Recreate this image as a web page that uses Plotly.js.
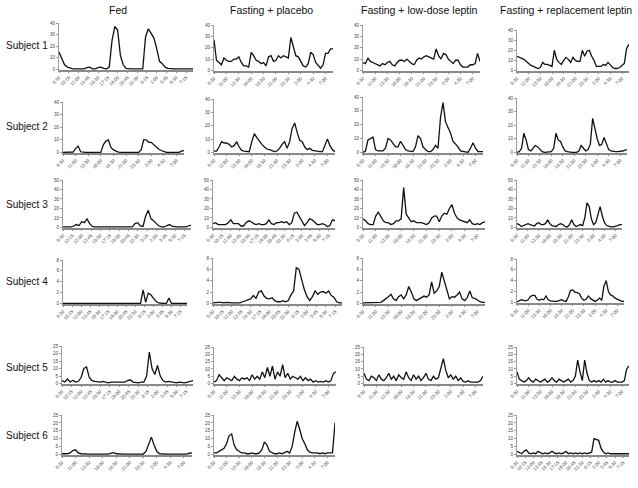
<!DOCTYPE html>
<html>
<head>
<meta charset="utf-8">
<script src="https://cdn.plot.ly/plotly-3.0.1.min.js"></script>
<style>
  html, body { margin: 0; padding: 0; background: #fff; }
  #chart { width: 638px; height: 488px; }
</style>
</head>
<body>
<div id="chart"></div>
<script>
// LH-like pulse profiles, one sample every 30 min from 8:30 to 8:30 next day
const columnTitles = ['Fed', 'Fasting + placebo', 'Fasting + low-dose leptin', 'Fasting + replacement leptin'];
const subjectLabels = ['Subject 1', 'Subject 2', 'Subject 3', 'Subject 4', 'Subject 5', 'Subject 6'];

// two styles of time labels used on the x axes
const ticksShort = ['8:30', '10:15', '12:00', '13:45', '15:30', '17:15', '19:00', '20:45', '22:30', '0:15', '2:00', '3:45', '5:30', '7:15'];
const ticksLong = ['8:30', '11:00', '13:30', '16:00', '18:30', '21:00', '23:30', '2:00', '4:30', '7:00'];

const fedS1 = [
  15, 10, 4, 2, 1, 0.5, 0.5, 0.5, 0.5, 0.5, 1.5, 2,
  0.5, 0.5, 1.5, 2, 1, 0.5, 2, 25, 37, 34, 12, 4,
  1, 0.5, 0.5, 0.5, 0.5, 0.5, 0.5, 28, 35, 31, 27, 18,
  7, 5, 2, 1, 0.5, 0.5, 0.5, 0.5, 0.5, 0.5, 0.5, 0.5,
  0.5];
const placeboS1 = [
  27, 9, 7, 5, 11, 9, 8, 8, 10, 10, 12, 7,
  4, 4, 3, 16, 13, 9, 8, 6, 7, 4, 12, 13,
  8, 9, 13, 11, 13, 12, 11, 29, 22, 13, 12, 8,
  4, 3, 6, 16, 14, 7, 4, 2, 5, 15, 15, 19,
  19];
const lowS1 = [
  7, 6, 11, 8, 7, 6, 5, 4, 6, 5, 7, 8,
  5, 4, 7, 9, 9, 8, 10, 8, 6, 5, 9, 11,
  10, 12, 13, 12, 11, 10, 19, 13, 10, 15, 14, 10,
  8, 6, 9, 9, 5, 3, 3, 3, 5, 5, 6, 15,
  8];
const replS1 = [
  14, 13, 12, 11, 9, 7, 5, 4, 3, 2, 3, 8,
  6, 6, 5, 4, 20, 11, 8, 6, 10, 13, 11, 8,
  13, 10, 9, 9, 20, 14, 19, 20, 14, 10, 4, 4,
  4, 6, 5, 8, 5, 3, 2, 2, 3, 5, 7, 22,
  26];

const fedS2 = [
  0, 0, 0, 0, 0.3, 3, 5, 0.5, 0, 0, 0, 0,
  0, 0, 0, 0, 6, 9, 10, 4, 2, 1, 0.3, 0,
  0, 0, 0, 0, 0, 0, 0, 2, 10, 10, 8, 8,
  6, 4, 2.5, 1.5, 0.5, 0, 0, 0, 0, 0, 0, 1,
  1.5];
const placeboS2 = [
  1, 1, 4, 8, 7, 7, 6, 4, 5, 8, 4, 1.5,
  1, 1, 0.5, 8, 14, 11, 8, 6, 4, 2.5, 2, 1,
  0.5, 1, 3, 6, 8, 3, 8, 18, 22, 15, 9, 8,
  4, 2, 3, 1.5, 1, 0.5, 0.5, 0.5, 5, 10, 5, 2,
  0.5];
const lowS2 = [
  0, 1, 9, 10, 11, 2, 1, 1, 1, 3, 10, 9,
  6, 4, 4, 8, 5, 2, 1, 0.5, 0.5, 4, 12, 10,
  4, 2, 0.5, 0.5, 2, 5, 3, 25, 36, 22, 18, 14,
  8, 6, 4, 1, 0.5, 0, 0, 3, 7, 3, 0.5, 0.5,
  0.5];
const replS2 = [
  0, 0.5, 3, 14, 9, 2, 1, 3, 5, 4, 2, 0.5,
  0, 0, 0, 0.5, 3, 14, 9, 8, 4, 1, 0.5, 0,
  0, 0, 0, 1, 5, 3, 1, 2, 6, 25, 17, 10,
  5, 6, 11, 6, 2, 1, 0.5, 0.5, 0.5, 0.5, 1, 1.5,
  2];

const fedS3 = [
  0.5, 0.5, 0.5, 0.5, 1.5, 3, 2, 6, 5, 9, 4, 1,
  0.5, 0.5, 0.5, 0.5, 1, 0.5, 0.5, 0.5, 0.5, 0.5, 0.5, 0.5,
  0.5, 0.5, 0.5, 4, 5, 1.5, 1, 12, 18, 9, 7, 4,
  1.5, 0.5, 0.5, 2, 3, 1, 0.5, 0.5, 0.5, 0.5, 0.5, 1.5,
  2.5];
const placeboS3 = [
  4, 5, 3, 3, 3, 3, 5, 8, 4, 4, 4, 1.5,
  1.5, 5, 7, 6, 4, 3, 4, 3, 3, 4, 8, 4,
  3, 5, 5, 6, 5, 6, 3, 5, 15, 16, 11, 7,
  2, 5, 9, 8, 5, 3, 3, 4, 3, 1, 2, 8,
  7];
const lowS3 = [
  9, 7, 4, 3, 3, 12, 16, 12, 7, 5, 5, 3,
  4, 7, 7, 9, 42, 14, 10, 6, 7, 5, 5, 5,
  4, 3, 5, 10, 12, 12, 6, 12, 15, 14, 20, 24,
  15, 10, 8, 7, 6, 5, 8, 4, 3, 4, 3, 5,
  6];
const replS3 = [
  4, 3, 1, 2, 3, 4, 3, 2, 1.5, 4, 5, 3,
  3, 4, 8, 4, 2, 1.5, 1, 3, 4, 3, 1, 0.5,
  3, 8, 3, 1, 2, 3, 2, 10, 26, 22, 9, 3,
  5, 14, 22, 12, 5, 2, 1, 0.5, 0.5, 1, 2, 3,
  3];

const fedS4 = [
  0, 0, 0, 0, 0, 0, 0, 0, 0, 0, 0, 0,
  0, 0, 0, 0, 0, 0, 0, 0, 0, 0, 0, 0,
  0, 0, 0, 0, 0, 0, 0, 2.5, 0.2, 1.9, 1.6, 1,
  0.4, 0.1, 0, 0, 0, 1, 0, 0, 0, 0, 0, 0,
  0];
const placeboS4 = [
  0.1, 0.2, 0.2, 0.2, 0.1, 0.2, 0.1, 0.1, 0.1, 0.1, 0.1, 0.3,
  0.5, 0.6, 0.8, 1.4, 0.9, 2, 2.2, 1.3, 0.9, 0.8, 1.0, 0.5,
  0.3, 0.3, 0.5, 0.3, 0.5, 1.5, 2.2, 6.3, 6.0, 4.2, 2.4, 1.2,
  0.5, 1.2, 2.2, 1.6, 2, 2.1, 1.8, 2.2, 1.4, 1.1, 0.3, 0.1,
  0.1];
const lowS4 = [
  0.1, 0.1, 0.1, 0.1, 0.1, 0.1, 0.1, 0.2, 0.5, 0.8, 1.2, 1.6,
  0.8, 0.5, 1.2, 1.5, 0.8, 1.5, 3.0, 2.0, 0.8, 0.5, 0.8, 1.0,
  1.3, 1.1, 1.5, 3.8, 1.8, 2.2, 3.0, 5.5, 3.8, 2.0, 0.8, 1.2,
  1.1, 1.5, 2.0, 0.8, 0.5, 1.0, 2.2, 1.0, 0.9, 0.6, 0.3, 0.2,
  0.2];
const replS4 = [
  0.1, 0.3, 0.5, 0.4, 0.3, 0.5, 1.1, 1.3, 1.3, 0.6, 0.4, 0.6,
  0.5, 1.2, 0.5, 0.3, 0.2, 0.2, 0.2, 0.3, 0.5, 0.3, 0.2, 1.0,
  2.2, 2.3, 1.9, 1.8, 1.6, 0.8, 0.4, 0.6, 1.2, 0.7, 0.4, 0.2,
  0.4, 0.8, 0.4, 3.0, 4.0, 2.0, 1.4, 1.2, 0.8, 0.6, 0.4, 0.2,
  0.2];

const fedS5 = [
  2, 1, 3, 1, 2, 1, 1.5, 4, 10, 11, 4, 2,
  1.5, 1, 1, 1.5, 1, 0.5, 1, 1, 0.5, 1, 0.5, 1,
  2, 2.5, 1, 0.5, 0.5, 1, 1, 5, 21, 10, 6, 12,
  5, 2, 1, 1.5, 1, 0.5, 0.5, 1, 0.5, 0.5, 1, 1.5,
  2];
const placeboS5 = [
  1, 2, 6, 4, 2, 4, 3, 2, 5, 3, 2, 4,
  3, 4, 2, 6, 3, 5, 3, 8, 4, 11, 5, 12,
  3, 8, 5, 13, 4, 7, 3, 5, 4, 3, 5, 2,
  4, 2, 3, 1, 2, 1, 1.5, 1, 2, 1, 2, 7,
  8];
const lowS5 = [
  7, 3, 2, 5, 4, 2, 6, 3, 2, 4, 7, 3,
  5, 2, 6, 4, 3, 8, 4, 2, 6, 3, 5, 2,
  4, 7, 3, 2, 5, 3, 4, 10, 17, 9, 4, 6,
  3, 5, 2, 4, 1.5, 1, 2, 1, 1, 1.5, 1, 2,
  5];
const replS5 = [
  8, 3, 2, 1, 2, 4, 2, 1, 3, 2, 1, 2,
  3, 1, 2, 4, 2, 1, 3, 2, 1, 2, 3, 1,
  2, 5, 16, 8, 2, 16, 7, 2, 1, 2, 1, 2,
  1, 3, 1, 2, 1, 1, 2, 1, 1, 1, 2, 10,
  12];

const fedS6 = [
  0.5, 0.5, 0.5, 1, 2.5, 3, 1, 0.5, 0.3, 0.3, 0.3, 0.3,
  0.3, 0.3, 0.3, 0.3, 0.3, 0.3, 0.8, 1.2, 0.5, 0.3, 0.3, 0.3,
  0.3, 0.3, 0.3, 0.3, 0.3, 0.3, 0.3, 2, 7, 11, 6, 2,
  0.5, 0.3, 0.3, 0.3, 0.3, 0.3, 0.3, 0.3, 0.3, 0.3, 0.3, 0.8,
  1];
const placeboS6 = [
  1, 1, 2, 3, 4, 7, 12, 13, 6, 3, 2, 1,
  1, 0.5, 0.5, 1, 0.5, 0.5, 1, 3, 8, 6, 2, 1,
  0.5, 0.5, 1, 0.5, 1, 2, 1, 5, 14, 21, 16, 10,
  7, 3, 1.5, 1, 1, 1, 0.5, 1, 0.5, 1, 1, 1,
  20];
const replS6 = [
  2, 1, 0.5, 2, 3, 1, 0.5, 1, 0.5, 2, 1, 0.5,
  1, 0.5, 1, 2, 1, 0.5, 1, 0.5, 1, 2, 0.5, 1,
  0.5, 1, 0.5, 1, 0.5, 1, 0.5, 1, 1.5, 10, 9.5, 9,
  4, 1.5, 0.5, 1, 0.5, 0.5, 0.5, 0.5, 0.5, 0.5, 0.5, 0.5,
  0.5];

// ---- layout helpers -------------------------------------------------------
const W = 638, H = 488;
const STEP = 30; // minutes between samples

function minutesFrom830(label) {
  const [h, m] = label.split(':').map(Number);
  return (h * 60 + m - 510 + 1440) % 1440;
}

// panel boxes in pixels: [left, right, top, bottom]
const panels = [
  { row: 0, y: fedS1, ticks: ticksShort, ymax: 40, dtick: 10, box: [59, 193, 23, 70] },
  { row: 0, y: placeboS1, ticks: ticksLong, ymax: 40, dtick: 10, box: [214, 333, 25, 71] },
  { row: 0, y: lowS1, ticks: ticksLong, ymax: 40, dtick: 10, box: [363, 480, 25, 71] },
  { row: 0, y: replS1, ticks: ticksLong, ymax: 40, dtick: 10, box: [517, 629, 30, 71] },

  { row: 1, y: fedS2, ticks: ticksLong, ymax: 40, dtick: 10, box: [63, 184, 102, 153] },
  { row: 1, y: placeboS2, ticks: ticksLong, ymax: 40, dtick: 10, box: [214, 335, 99, 153] },
  { row: 1, y: lowS2, ticks: ticksLong, ymax: 40, dtick: 10, box: [363, 483, 97, 153] },
  { row: 1, y: replS2, ticks: ticksLong, ymax: 40, dtick: 10, box: [517, 627, 98, 153] },

  { row: 2, y: fedS3, ticks: ticksShort, ymax: 50, dtick: 10, box: [63, 191, 180, 228] },
  { row: 2, y: placeboS3, ticks: ticksShort, ymax: 50, dtick: 10, box: [213, 335, 180, 228] },
  { row: 2, y: lowS3, ticks: ticksLong, ymax: 50, dtick: 10, box: [363, 485, 180, 228] },
  { row: 2, y: replS3, ticks: ticksLong, ymax: 50, dtick: 10, box: [517, 622, 180, 228] },

  { row: 3, y: fedS4, ticks: ticksShort, ymax: 8, dtick: 2, box: [63, 187, 260, 304] },
  { row: 3, y: placeboS4, ticks: ticksShort, ymax: 8, dtick: 2, box: [213, 342, 258, 304] },
  { row: 3, y: lowS4, ticks: ticksLong, ymax: 8, dtick: 2, box: [363, 485, 258, 304] },
  { row: 3, y: replS4, ticks: ticksLong, ymax: 8, dtick: 2, box: [517, 624, 259, 303] },

  { row: 4, y: fedS5, ticks: ticksShort, ymax: 25, dtick: 5, box: [62, 193, 346, 384] },
  { row: 4, y: placeboS5, ticks: ticksLong, ymax: 25, dtick: 5, box: [214, 336, 347, 384] },
  { row: 4, y: lowS5, ticks: ticksLong, ymax: 25, dtick: 5, box: [364, 483, 347, 384] },
  { row: 4, y: replS5, ticks: ticksLong, ymax: 25, dtick: 5, box: [517, 629, 347, 384] },

  { row: 5, y: fedS6, ticks: ticksLong, ymax: 25, dtick: 5, box: [62, 192, 415, 455] },
  { row: 5, y: placeboS6, ticks: ticksLong, ymax: 25, dtick: 5, box: [214, 335, 415, 455] },
  { row: 5, y: replS6, ticks: ticksShort, ymax: 25, dtick: 5, box: [517, 629, 415, 455] }
];

const titleX = [118, 271, 419, 566];
const labelY = [46, 127, 204, 281, 367, 435];

const tickFont = { family: 'Liberation Sans, Arial, sans-serif', size: 4.6, color: '#444' };
const titleFont = { family: 'Liberation Sans, Arial, sans-serif', size: 10.5, color: '#111' };
const labelFont = { family: 'Liberation Sans, Arial, sans-serif', size: 10, color: '#111' };

const traces = [];
const layout = {
  width: W,
  height: H,
  margin: { l: 0, r: 0, t: 0, b: 0 },
  paper_bgcolor: '#fff',
  plot_bgcolor: 'rgba(0,0,0,0)',
  showlegend: false,
  annotations: []
};

panels.forEach((p, i) => {
  const k = i + 1;
  const [l, r, t, b] = p.box;
  const xs = p.y.map((_, j) => j * STEP);

  traces.push({
    type: 'scatter',
    mode: 'lines',
    x: xs,
    y: p.y,
    xaxis: 'x' + k,
    yaxis: 'y' + k,
    line: { color: '#111', width: 1.3 },
    hoverinfo: 'skip'
  });

  layout['xaxis' + (k === 1 ? '' : k)] = {
    domain: [l / W, r / W],
    anchor: 'y' + k,
    range: [0, 1440],
    tickmode: 'array',
    tickvals: p.ticks.map(minutesFrom830),
    ticktext: p.ticks,
    tickangle: -45,
    tickfont: tickFont,
    showline: true,
    linecolor: '#8a8a8a',
    linewidth: 1.5,
    ticks: 'outside',
    ticklen: 1.5,
    tickcolor: '#8a8a8a',
    showgrid: false,
    zeroline: false,
    fixedrange: true
  };

  layout['yaxis' + (k === 1 ? '' : k)] = {
    domain: [1 - b / H, 1 - t / H],
    anchor: 'x' + k,
    range: [-p.ymax * 0.012, p.ymax],
    tickmode: 'linear',
    tick0: 0,
    dtick: p.dtick,
    tickfont: tickFont,
    showline: true,
    linecolor: '#9a9a9a',
    linewidth: 1,
    ticks: 'outside',
    ticklen: 2,
    tickcolor: '#9a9a9a',
    showgrid: false,
    zeroline: false,
    fixedrange: true
  };
});

columnTitles.forEach((txt, c) => {
  layout.annotations.push({
    text: txt, xref: 'paper', yref: 'paper',
    x: titleX[c] / W, y: 1 - 10 / H,
    xanchor: 'center', yanchor: 'middle',
    showarrow: false, font: titleFont
  });
});

subjectLabels.forEach((txt, r) => {
  layout.annotations.push({
    text: txt, xref: 'paper', yref: 'paper',
    x: 4 / W, y: 1 - labelY[r] / H,
    xanchor: 'left', yanchor: 'middle',
    showarrow: false, font: labelFont
  });
});

Plotly.newPlot('chart', traces, layout, { displayModeBar: false, staticPlot: true });
</script>
</body>
</html>
